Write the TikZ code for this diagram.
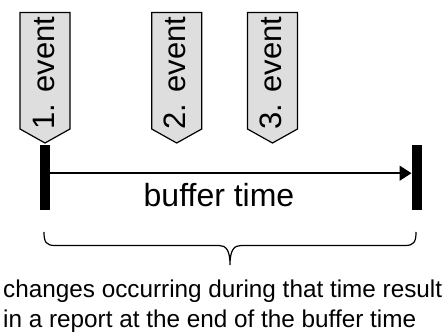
\documentclass[tikz,border=0pt]{standalone}
\usepackage{fontspec}
\setmainfont{Liberation Sans}
\usetikzlibrary{arrows.meta}
\begin{document}
\begin{tikzpicture}[x=1pt,y=-1pt,
  evshape/.style={draw=black,line width=1.2pt,fill=black!13,line join=miter},
  evtext/.style={rotate=90,inner sep=0pt,font=\fontsize{31}{37}\selectfont},
  bar/.style={fill=black,draw=none,minimum width=10pt,minimum height=65pt,inner sep=0pt},
  conn/.style={line width=1.5pt,-{Triangle[length=12pt,width=15pt]}}]
\useasboundingbox (0,0) rectangle (445,332);
% events
\foreach \cx/\n in {45/1, 176.7/2, 272.5/3}{
  \draw[evshape] (\cx-25,12.5) -- (\cx+25,12.5) -- (\cx+25,129) -- (\cx,143) -- (\cx-25,129) -- cycle;
  \node[evtext] (ev\n) at (\cx-1.5,73) {\n. event};
}
% bars
\node[bar] (L) at (45,177.5) {};
\node[bar] (R) at (416.7,177.5) {};
\draw[conn] ([yshift=4.3pt]L.east) -- ([yshift=4.3pt]R.west);
\node[anchor=base,inner sep=0pt,font=\fontsize{32}{38}\selectfont] (bt) at (219,206) {buffer time};
% brace
\draw[line width=1.2pt] (44,232) .. controls (44,242) and (46,245.5) .. (55,245.5) -- (219,245.5)
  .. controls (226,245.5) and (230,250) .. (230,265)
  .. controls (230,250) and (234,245.5) .. (241,245.5) -- (405,245.5)
  .. controls (414,245.5) and (416,242) .. (416,232);
\node[anchor=north west,inner sep=0pt,align=left,font=\fontsize{24.3}{29.5}\selectfont] (desc) at (3,280)
  {changes occurring during that time result\\in a report at the end of the buffer time};
\end{tikzpicture}
\end{document}
